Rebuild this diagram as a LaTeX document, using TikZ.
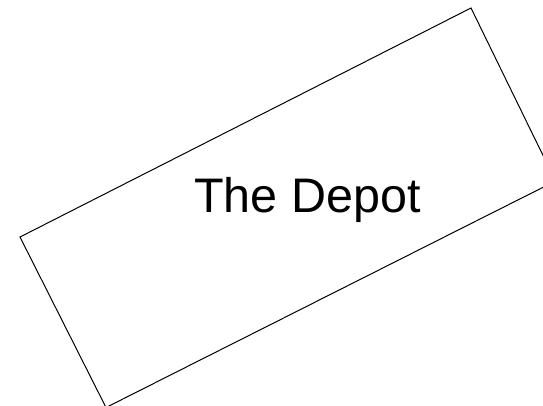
\documentclass[tikz,border=0pt]{standalone}
\usepackage{fontspec}
\setmainfont{Liberation Sans}
\begin{document}
\begin{tikzpicture}[x=1pt,y=-1pt,
  outline/.style={draw=black,line width=1pt,line join=miter},
  label/.style={font=\fontsize{48.5}{52}\selectfont,inner sep=0pt}]
\useasboundingbox (0,0) rectangle (543,406);
\coordinate (L) at (20,237);
\coordinate (T) at (471,8);
\coordinate (R) at (555.5,181);
\coordinate (B) at (106,407.5);
\draw[outline] (L) -- (T) -- (R) -- (B) -- cycle;
\node[label,anchor=base] (depot) at (307.5,212) {The Depot};
\end{tikzpicture}
\end{document}
